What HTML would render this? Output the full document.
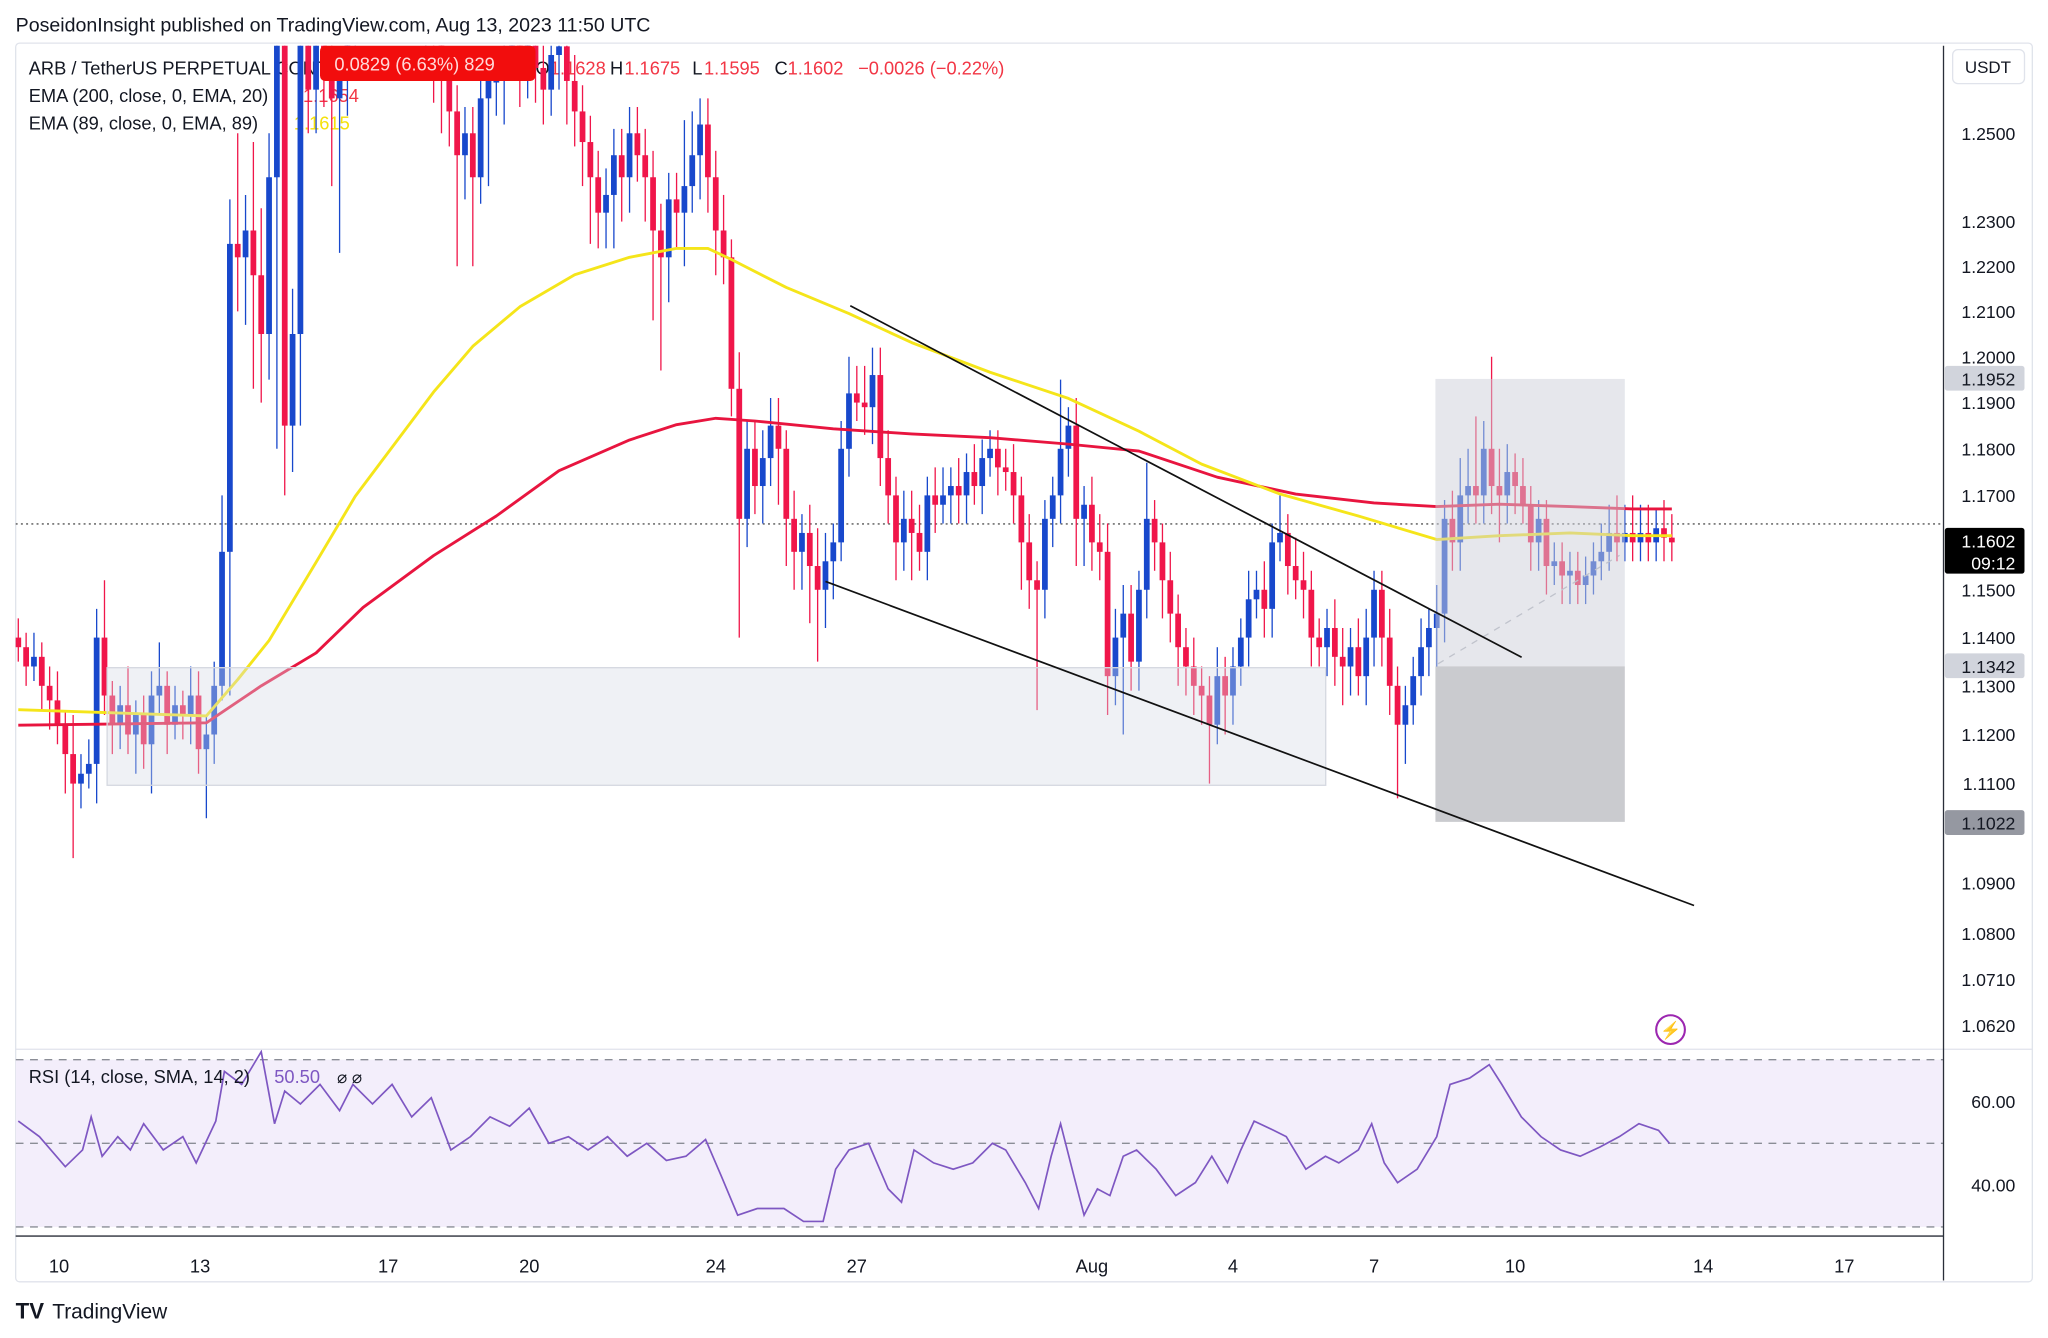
<!DOCTYPE html>
<html><head><meta charset="utf-8"><style>
html,body{margin:0;padding:0;background:#fff;}
svg{display:block;font-family:"Liberation Sans",sans-serif;}
</style></head><body>
<svg id="chart" width="2048" height="1338" viewBox="0 0 1568 1024" preserveAspectRatio="none" xmlns="http://www.w3.org/2000/svg">
<rect x="0" y="0" width="1568" height="1024" fill="#fff"/>
<text x="12" y="24" font-size="15" fill="#131722">PoseidonInsight published on TradingView.com, Aug 13, 2023 11:50 UTC</text>
<rect x="12" y="33" width="1544" height="948" rx="3" fill="none" stroke="#e0e3eb"/>
<g id="legend-bg"></g>
<g id="plot"></g>
<g id="overlay"></g>
</svg>
<script>
// ---------- data ----------
const dayLabels = ["10","13","17","20","24","27","Aug","4","7","10","14","17"];
const dayIdx = [5.2,23.2,47.2,65.2,89,107,137,155,173,191,215,233];
const priceTicks = [1.25,1.23,1.22,1.21,1.20,1.19,1.18,1.17,1.15,1.14,1.13,1.12,1.11,1.09,1.08,1.071,1.062];
const firstOpen = 1.140;
const closes = [
1.138,1.134,1.136,1.130,1.127,1.122,1.116,1.110,1.112,1.114,
1.140,1.128,1.122,1.126,1.120,1.124,1.118,1.128,1.130,1.122,
1.126,1.124,1.128,1.117,1.120,1.130,1.158,1.225,1.222,1.228,
1.218,1.205,1.240,1.280,1.185,1.205,1.275,1.260,1.272,1.268,
1.258,1.262,1.275,1.285,1.290,1.285,1.295,1.290,1.288,1.292,
1.285,1.280,1.285,1.272,1.262,1.255,1.245,1.250,1.240,1.258,
1.262,1.262,1.270,1.275,1.268,1.272,1.265,1.260,1.268,1.270,
1.262,1.255,1.248,1.240,1.232,1.236,1.245,1.240,1.250,1.245,
1.240,1.228,1.222,1.235,1.232,1.238,1.245,1.252,1.240,1.228,
1.222,1.193,1.165,1.180,1.172,1.178,1.185,1.180,1.165,1.158,
1.162,1.155,1.150,1.156,1.160,1.180,1.192,1.190,1.189,1.196,
1.178,1.170,1.160,1.165,1.162,1.158,1.170,1.168,1.170,1.172,
1.170,1.175,1.172,1.178,1.180,1.176,1.175,1.170,1.160,1.152,
1.150,1.165,1.170,1.180,1.185,1.165,1.168,1.160,1.158,1.132,
1.140,1.145,1.135,1.150,1.165,1.160,1.152,1.145,1.138,1.134,
1.130,1.128,1.122,1.132,1.128,1.134,1.140,1.148,
1.150,1.146,1.160,1.162,1.155,1.152,1.150,1.140,1.138,
1.142,1.136,1.134,1.138,1.132,1.140,1.150,1.140,
1.130,1.122,1.126,1.132,1.138,1.142,1.145,1.165,1.160,1.170,
1.172,1.170,1.180,1.172,1.170,1.175,1.172,1.168,1.160,1.165,
1.155,1.156,1.153,1.154,1.151,1.153,1.156,1.158,1.162,1.160,
1.162,1.160,1.162,1.160,1.163,1.161,1.160];
const wickUp = [
4,3,5,3,4,6,3,8,4,5, 6,12,3,4,8,3,4,5,9,3, 4,3,6,5,4,5,12,10,25,8,
20,15,10,10,10,10,8,10,10,8, 6,8,8,6,6,6,6,6,6,6, 6,6,6,6,6,8,6,6,6,8,
8,6,6,6,6,6,6,6,6,6, 6,6,6,6,6,6,6,6,6,6, 6,6,6,6,6,15,10,6,6,6,
8,4,8,6,6,6,6,6,4,6, 4,6,8,6,4,6,8,6,8,6, 6,6,4,6,6,6,4,6,6,4,
6,4,6,4,4,4,4,6,4,6, 4,4,4,15,4,6,4,6,6,6, 6,6,6,4,12,4,4,6,4,4,
6,4,4,6,4,4,4,6, 4,6,4,8,4,6,6,4,4, 4,6,6,4,6,6,4,4,
6,4,4,4,6,4,6,4,6,8, 8,15,6,20,8,6,4,6,4,4, 4,4,4,4,4,4,4,6,6,8, 6,8,6,6,4,6,5];
const wickDn = [
3,4,3,5,6,4,8,15,5,3, 8,4,6,5,4,8,5,10,4,6, 3,5,6,5,14,6,3,30,12,15,
25,15,10,60,15,10,20,10,10,12, 20,35,8,6,6,6,6,6,6,6, 6,6,10,15,12,8,25,10,20,6,
20,8,10,8,12,10,8,8,6,8, 10,8,10,15,8,8,12,10,8,6, 10,20,25,10,8,12,6,10,8,10,
6,6,25,6,6,8,6,12,10,8, 8,12,15,8,8,4,6,4,6,8, 6,6,8,6,10,4,6,6,4,6,
6,6,4,6,4,6,4,6,10,6, 25,6,6,6,6,10,10,6,6,8, 6,20,6,6,6,6,8,6,8,6,
6,6,12,4,8,6,4,6, 4,6,6,4,6,4,6,6,4, 6,6,8,6,4,6,6,6,
6,15,8,4,4,6,8,6,6,6, 6,6,6,6,10,6,6,4,6,6, 6,4,6,6,4,4,4,4,4,4, 4,4,4,4,4,5,4];
const emaSlowIdx = [0,24,31,38,44,53,61,69,78,84,89,94,104,114,124,134,143,153,163,173,181,189,198,206,211];
const emaSlow = [1.1219,1.1224,1.1300,1.1368,1.1463,1.1572,1.1656,1.1753,1.1819,1.1852,1.1866,1.1860,1.1843,1.1832,1.1824,1.1810,1.1795,1.1739,1.1703,1.1684,1.1676,1.1681,1.1676,1.1671,1.1671];
const emaFastIdx = [0,24,28,32,38,43,48,53,58,64,71,78,84,88,91,98,106,114,124,134,143,151,161,171,181,189,198,206,211];
const emaFast = [1.1251,1.1238,1.1313,1.1394,1.1558,1.1698,1.1810,1.1923,1.2023,1.2110,1.2181,1.2220,1.2240,1.2240,1.2215,1.2153,1.2095,1.2031,1.1966,1.1909,1.1838,1.1767,1.1703,1.1656,1.1606,1.1614,1.1620,1.1614,1.1614];
const rsiIdx = [0,2.7,6,8.2,9.3,10.7,12.7,14.3,16,18.5,21,22.7,25.2,26.3,28.5,31,32.7,34,36,38.5,41,42.7,45.2,47.7,50.2,52.7,55.2,57.7,60.2,62.7,65.2,67.7,70.2,72.7,75.2,77.7,80.2,82.7,85.2,87.7,89.7,91.8,94.3,97.7,100.2,102.7,104.3,106,108.5,111,112.7,114.3,116.8,119.3,121.8,124.3,126,128.5,130.2,131.8,133,134.7,136,137.7,139.3,141,142.7,145.2,147.7,150.2,152.3,154.3,156,157.7,160.2,161.8,164.3,166.8,168.5,171,172.7,174.3,176,178.5,181,182.7,185.2,187.7,189.3,191.8,194.3,196.8,199.3,201.8,204.3,206.8,209.3,210.7];
const rsiVal = [55.3,51.6,44.4,48.4,56.3,46.9,51.6,48.4,54.7,48.4,51.6,45.3,55.3,67.2,64.1,71.9,54.7,62.5,59.4,64.1,57.8,64.1,59.4,64.1,56.3,60.9,48.4,51.6,56.3,54.1,58.4,50,51.6,48.4,51.6,46.9,50,45.9,46.9,50.9,42.2,32.8,34.4,34.4,31.3,31.3,43.8,48.4,50,39.1,35.9,48.4,45.3,43.8,45.3,50,48.4,40.6,34.4,46.9,54.7,42.2,32.8,39.1,37.5,46.9,48.4,43.8,37.5,40.6,46.9,40.6,48.4,55.3,53.1,51.6,43.8,46.9,45.3,48.4,54.7,45.3,40.6,43.8,51.6,64.1,65.6,68.8,64.1,56.3,51.6,48.4,46.9,49.1,51.6,54.7,53.1,50];
const rsiTicks = [60,40];
const lastPrice = 1.1602;

// ---------- axes ----------
const NS="http://www.w3.org/2000/svg";
const X0=14, DX=6;
function xAt(i){return X0+DX*i;}
const LN_TOP=Math.log(1.25), Y_TOP=102, K=4190;
function yP(p){return Y_TOP+(LN_TOP-Math.log(p))*K;}
function yR(v){return 811+(70-v)*3.2;}
function mk(tag,attrs,parent){const e=document.createElementNS(NS,tag);for(const k in attrs)e.setAttribute(k,attrs[k]);(parent||plot).appendChild(e);return e;}
const svg=document.getElementById('chart');
const plot=document.getElementById('plot');
const overlay=document.getElementById('overlay');
const legendBg=document.getElementById('legend-bg');

const defs=mk('defs',{},svg);
const cp=mk('clipPath',{id:'pane'},defs);
mk('rect',{x:12,y:35,width:1476,height:767},cp);
const cp2=mk('clipPath',{id:'rpane'},defs);
mk('rect',{x:12,y:803,width:1476,height:143},cp2);

function txt(x,y,s,fill,size,parent,name,anchor){const t=mk('text',{x:x,y:y,'font-size':size||14,fill:fill||'#131722'},parent);if(anchor)t.setAttribute('text-anchor',anchor);t.textContent=s;return t;}
txt(22,57,"ARB / TetherUS PERPETUAL CONTRACT · 4h · BINANCE","#131722",14,legendBg,"symbol-title");
txt(410,57,"O","#131722",14,legendBg,"ohlc-open-label");
txt(421,57,"1.1628","#f23645",14,legendBg,"ohlc-open");
txt(467,57,"H","#131722",14,legendBg,"ohlc-high-label");
txt(478,57,"1.1675","#f23645",14,legendBg,"ohlc-high");
txt(530,57,"L","#131722",14,legendBg,"ohlc-low-label");
txt(539,57,"1.1595","#f23645",14,legendBg,"ohlc-low");
txt(593,57,"C","#131722",14,legendBg,"ohlc-close-label");
txt(603,57,"1.1602","#f23645",14,legendBg,"ohlc-close");
txt(657,57,"−0.0026 (−0.22%)","#f23645",14,legendBg,"ohlc-change");
txt(22,78,"EMA (200, close, 0, EMA, 20)","#131722",14,legendBg,"ema200-legend");
txt(232,78,"1.1654","#f23645",14,legendBg,"ema200-value");
txt(22,99,"EMA (89, close, 0, EMA, 89)","#131722",14,legendBg,"ema89-legend");
txt(225,99,"1.1615","#f5e10a",14,legendBg,"ema89-value");

const pg=mk('g',{'clip-path':'url(#pane)'},plot);



const pl=mk('line',{x1:12,x2:1488,y1:401,y2:401,stroke:'#555','stroke-dasharray':'1.5 2.5','stroke-width':1},pg);



const UP='#1848cc', DN='#f0164a';
let prev=firstOpen;
for(let i=0;i<closes.length;i++){
  const o=prev, c=closes[i]; prev=c;
  const hi=Math.max(o,c)+(wickUp[i]||3)/1000, lo=Math.min(o,c)-(wickDn[i]||3)/1000;
  const col=c>=o?UP:DN, x=xAt(i);
  const g=mk('g',{},pg);
  
  
  mk('line',{x1:x,x2:x,y1:yP(hi),y2:yP(lo),stroke:col,'stroke-width':1},g);
  const yt=yP(Math.max(o,c)), yb=yP(Math.min(o,c));
  mk('rect',{x:x-2.2,y:yt,width:4.4,height:Math.max(1.2,yb-yt),fill:col},g);
}

function emaPath(idx,vals){return idx.map((k,j)=>(j?'L':'M')+xAt(k).toFixed(1)+' '+yP(vals[j]).toFixed(1)).join(' ');}
const e1=mk('path',{d:emaPath(emaSlowIdx,emaSlow),fill:'none',stroke:'#e8153f','stroke-width':2.2,'stroke-linejoin':'round'},pg);


const e2=mk('path',{d:emaPath(emaFastIdx,emaFast),fill:'none',stroke:'#f5e51a','stroke-width':2.2,'stroke-linejoin':'round'},pg);



const b1=mk('rect',{x:82,y:511,width:933,height:90,fill:'rgba(214,217,228,0.38)',stroke:'#d5d8e0','stroke-width':1},pg);


const b2=mk('rect',{x:1099,y:290,width:145,height:220,fill:'rgba(205,208,218,0.5)'},pg);


const b3=mk('rect',{x:1099,y:510,width:145,height:119,fill:'rgba(150,152,160,0.5)'},pg);


const dl=mk('line',{x1:1101,y1:508,x2:1240,y2:425,stroke:'#c0c3cc','stroke-dasharray':'5 5'},pg);



const t1=mk('line',{x1:651,y1:234,x2:1165,y2:503,stroke:'#111','stroke-width':1.3},pg);


const t2=mk('line',{x1:632,y1:445,x2:1297,y2:693,stroke:'#111','stroke-width':1.3},pg);



const tb=mk('rect',{x:245,y:35,width:165,height:27,rx:4,fill:'#f20d0d'},overlay);


txt(256,54,"0.0829 (6.63%) 829","#ffd9d9",14,overlay,"measure-tooltip-text");

const li=mk('circle',{cx:1279,cy:788,r:11,fill:'none',stroke:'#9c27b0','stroke-width':1.6},overlay);


txt(1279,793,"⚡","#9c27b0",13,overlay,"events-icon-glyph","middle");

mk('line',{x1:12,x2:1556,y1:803,y2:803,stroke:'#e0e3eb'},overlay);
const ax=mk('line',{x1:1488,x2:1488,y1:35,y2:980,stroke:'#2a2e39','stroke-width':1},overlay);


mk('line',{x1:12,x2:1488,y1:946,y2:946,stroke:'#2a2e39','stroke-width':1},overlay);

priceTicks.forEach(p=>{
  txt(1543,yP(p)+5,p.toFixed(4),'#131722',13.5,overlay,'price-tick-label','end');
});
function tag(y,h,bg,lines,col,name){
  const r=mk('rect',{x:1489,y:y,width:61,height:h,rx:2,fill:bg},overlay);
  
  
  lines.forEach((s,j)=>txt(1543,y+15+j*17,s,col,13.5,overlay,name+'-text','end'));
}
tag(280,19,'#d1d4dc',['1.1952'],'#131722','target-price-tag');
tag(500,19,'#d1d4dc',['1.1342'],'#131722','entry-price-tag');
tag(620,19,'#9598a1',['1.1022'],'#131722','stop-price-tag');
tag(404,35,'#000',['1.1602','09:12'],'#fff','last-price-tag');

const ub=mk('rect',{x:1495,y:38,width:55,height:26,rx:4,fill:'#fff',stroke:'#e0e3eb'},overlay);


txt(1522,56,'USDT','#131722',13,overlay,'currency-button-label','middle');

dayLabels.forEach((s,j)=>{
  txt(xAt(dayIdx[j]),974,s,'#131722',14,overlay,'time-tick-label','middle');
});

const rg=mk('g',{'clip-path':'url(#rpane)'},plot);


const band=mk('rect',{x:12,y:yR(70),width:1476,height:yR(30)-yR(70),fill:'#f3eefb'},rg);


[70,50,30].forEach(v=>{
  const l=mk('line',{x1:12,x2:1488,y1:yR(v),y2:yR(v),stroke:'#8a8d96','stroke-dasharray':'6 5','stroke-width':1},rg);
  
  
});
const rl=mk('path',{d:rsiIdx.map((k,j)=>(j?'L':'M')+xAt(k).toFixed(1)+' '+yR(rsiVal[j]).toFixed(1)).join(' '),fill:'none',stroke:'#7e57c2','stroke-width':1.3},rg);


rsiTicks.forEach(v=>txt(1543,yR(v)+5,v.toFixed(2),'#131722',13.5,overlay,'rsi-tick-label','end'));
txt(22,829,'RSI (14, close, SMA, 14, 2)','#131722',14,overlay,'rsi-legend');
txt(210,829,'50.50','#7e57c2',14,overlay,'rsi-value');
txt(258,829,'⌀  ⌀','#131722',13,overlay,'rsi-na-values');

const logo=mk('text',{x:12,y:1009,'font-size':17,'font-weight':'bold',fill:'#131722'},overlay);
logo.textContent='TV';


txt(40,1009,'TradingView','#131722',16,overlay,'tradingview-logo-text');
</script>
</body></html>
